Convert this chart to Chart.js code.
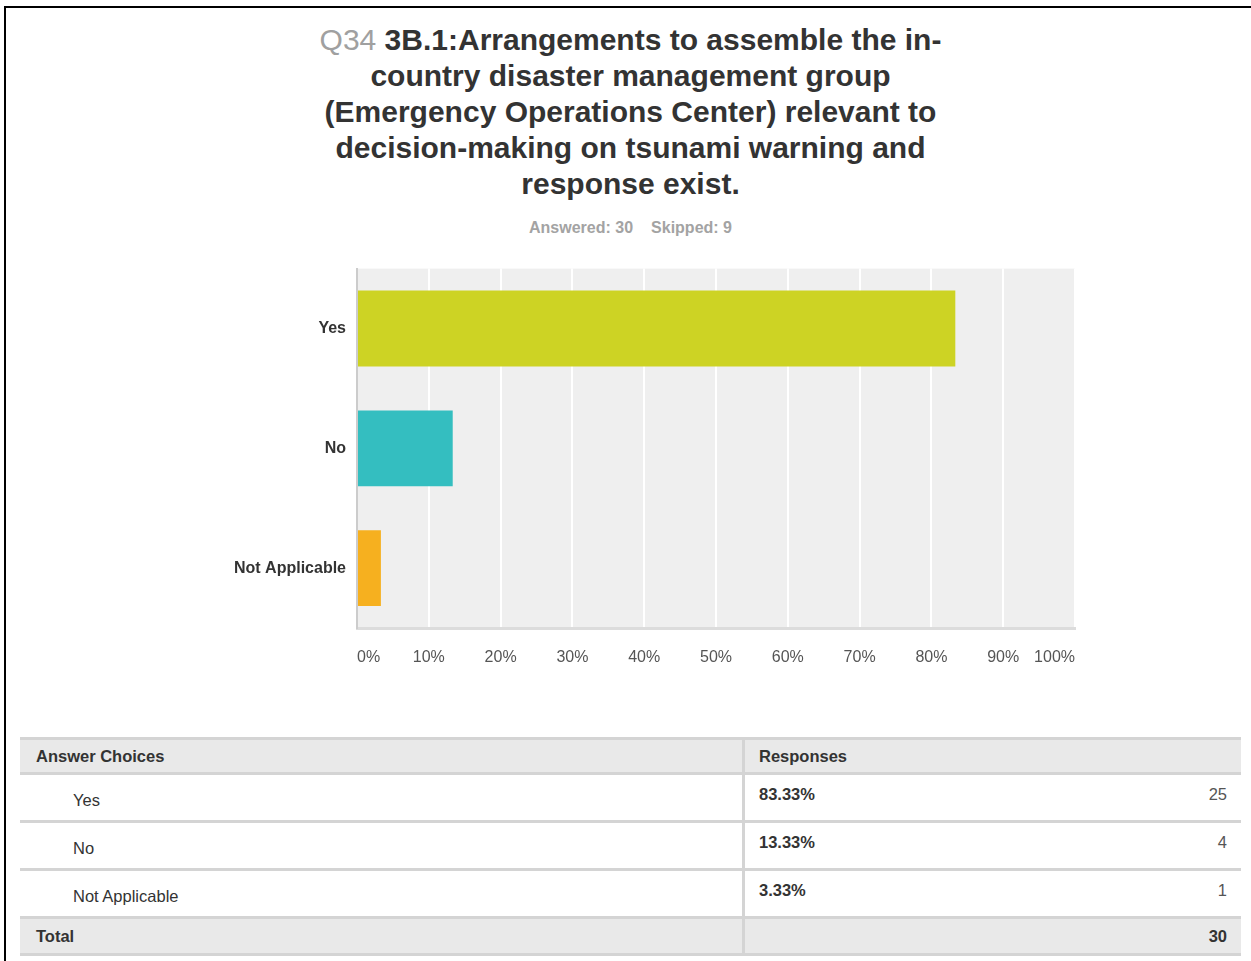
<!DOCTYPE html>
<html>
<head>
<meta charset="utf-8">
<script src="https://cdn.jsdelivr.net/npm/chart.js@4/dist/chart.umd.min.js"></script>
<style>
  body { margin: 0; background: #fff; font-family: "Liberation Sans", Arial, sans-serif; }
  #moldura { position: absolute; left: 4px; top: 6px; width: 1300px; height: 1000px;
             border-top: 2px solid #000; border-left: 2px solid #000; }
  #titulo { position: absolute; left: 0; top: 22px; width: 1261px; text-align: center;
            font-size: 30px; line-height: 36px; font-weight: bold; color: #333; }
  #titulo .q { color: #a0a0a0; font-weight: normal; }
  #resumo { position: absolute; left: 0; top: 219px; width: 1261px; text-align: center;
            font-size: 16px; font-weight: bold; color: #a3a3a3; }
  #resumo span + span { margin-left: 18px; }
  #grafico { position: absolute; left: 200px; top: 248px; }
  table.respostas { position: absolute; left: 20px; top: 737px; width: 1221px;
                    border-collapse: collapse; table-layout: fixed; font-size: 16.5px; color: #333; }
  table.respostas td { border-top: 3px solid #d4d4d4; border-bottom: 3px solid #d4d4d4; padding: 0; }
  table.respostas td.col2 { border-left: 3px solid #d4d4d4; }
  tr.cab td, tr.total td { background: #e9e9e9; font-weight: bold; height: 32px; }
  tr.total td { height: 34px; }
  tr.cab td.col1, tr.total td.col1 { padding-left: 16px; }
  tr.cab td.col2 { padding-left: 14px; }
  tr.linha td { vertical-align: top; }
  tr.linha td.col1 { padding-left: 53px; padding-top: 16px; height: 29px; }
  tr.linha td.col2 { padding-top: 10px; height: 35px; padding-left: 14px; font-weight: bold; }
  td .qtd { float: right; margin-right: 14px; color: #555; font-weight: normal; }
  tr.total td .qtd { color: #333; font-weight: bold; }
</style>
</head>
<body>
<div id="moldura"></div>
<div id="titulo"><span class="q">Q34</span> 3B.1:Arrangements to assemble the in-<br>country disaster management group<br>(Emergency Operations Center) relevant to<br>decision-making on tsunami warning and<br>response exist.</div>
<div id="resumo"><span>Answered: 30</span><span>Skipped: 9</span></div>
<canvas id="grafico" width="900" height="432"></canvas>
<table class="respostas" id="tabela"></table>

<script>
// dados do grafico
var categorias = ['Yes', 'No', 'Not Applicable'];
var percentuais = [83.33, 13.33, 3.33];
var quantidades = [25, 4, 1];
var totalRespostas = 30;
var cores = ['#cdd324', '#34bec0', '#f6b01f'];
var ticksEixo = [0, 10, 20, 30, 40, 50, 60, 70, 80, 90, 100];

// fundo cinza da area do grafico
var fundoPlot = {
    id: 'fundoPlot',
    beforeDraw: function (chart) {
        var a = chart.chartArea;
        var ctx = chart.ctx;
        ctx.save();
        ctx.fillStyle = '#efefef';
        ctx.fillRect(a.left, a.top, a.right - a.left, a.bottom - a.top);
        ctx.restore();
    }
};

var ctx = document.getElementById('grafico').getContext('2d');

var grafico = new Chart(ctx, {
    type: 'bar',
    data: {
        labels: categorias,
        datasets: [{
            data: percentuais,
            backgroundColor: cores,
            borderWidth: 0,
            categoryPercentage: 1,
            barPercentage: 0.633
        }]
    },
    options: {
        indexAxis: 'y',
        responsive: false,
        animation: false,
        layout: { padding: { top: 0, right: 25, left: 0, bottom: 0 } },
        plugins: {
            legend: { display: false },
            tooltip: { enabled: false }
        },
        scales: {
            x: {
                min: 0,
                max: 100,
                afterBuildTicks: function (s) {
                    s.ticks = ticksEixo.map(function (v) { return { value: v }; });
                },
                afterFit: function (s) { s.height = 52; },
                grid: {
                    color: function (c) { return c.index === 0 ? 'rgba(0,0,0,0)' : '#ffffff'; },
                    lineWidth: 2,
                    drawTicks: false
                },
                border: { color: '#dcdcdc', width: 3 },
                ticks: {
                    padding: 20,
                    align: 'inner',
                    maxRotation: 0,
                    autoSkip: false,
                    color: '#555',
                    font: { family: 'Liberation Sans', size: 16 },
                    callback: function (v) { return v + '%'; }
                }
            },
            y: {
                afterFit: function (s) { s.width = 157; },
                grid: { display: false, drawTicks: false },
                border: { color: '#cccccc', width: 2 },
                ticks: {
                    padding: 11,
                    color: '#333',
                    font: { family: 'Liberation Sans', size: 16, weight: 'bold' }
                }
            }
        }
    },
    plugins: [fundoPlot]
});

// tabela de respostas
var html = '<tr class="cab"><td class="col1" style="width:706px">Answer Choices</td><td class="col2">Responses</td></tr>';
for (var i = 0; i < categorias.length; i++) {
    html += '<tr class="linha"><td class="col1">' + categorias[i] + '</td><td class="col2">' +
        percentuais[i].toFixed(2) + '%<span class="qtd">' + quantidades[i] + '</span></td></tr>';
}
html += '<tr class="total"><td class="col1">Total</td><td class="col2"><span class="qtd">' + totalRespostas + '</span></td></tr>';
document.getElementById('tabela').innerHTML = html;
</script>
</body>
</html>
